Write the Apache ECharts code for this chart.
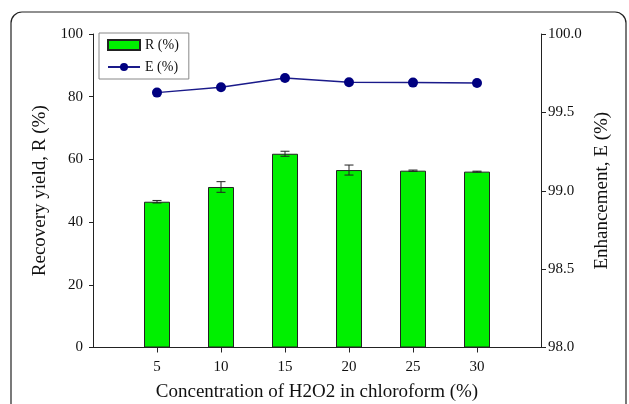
<!DOCTYPE html>
<html>
<head>
<meta charset="utf-8">
<style>
  html, body { margin: 0; padding: 0; background: #fff; }
  #chart { width: 629px; height: 404px; }
</style>
<script src="https://cdn.jsdelivr.net/npm/echarts@6/dist/echarts.min.js"></script>
</head>
<body>
<div id="chart"></div>
<script>
// H2O2 concentration in chloroform (%)
const concentration = [5, 10, 15, 20, 25, 30];
// Recovery yield R (%) and its standard deviation
const recovery = [46.5, 51.2, 61.8, 56.6, 56.4, 56.1];
const recoveryErr = [0.4, 1.7, 0.8, 1.6, 0.2, 0.15];
// Enhancement E (%)
const enhancement = [99.626, 99.660, 99.719, 99.692, 99.690, 99.687];
// Tick labels
const xTicks = [5, 10, 15, 20, 25, 30];

const serif = 'Liberation Serif';
const chart = echarts.init(document.getElementById('chart'));

const barData = concentration.map((c, i) => [c, recovery[i]]);
const errData = concentration.map((c, i) => [c, recovery[i] - recoveryErr[i], recovery[i] + recoveryErr[i]]);
const lineData = concentration.map((c, i) => [c, enhancement[i]]);

chart.setOption({
  animation: false,
  backgroundColor: '#fff',
  graphic: [{
    type: 'rect',
    shape: { x: 11, y: 12, width: 615, height: 430, r: 11 },
    style: { fill: 'none', stroke: '#222', lineWidth: 1.2 },
    silent: true
  }],
  grid: { left: 93, right: 88, top: 34, bottom: 56.5, outerBoundsMode: 'none', containLabel: false },
  legend: {
    orient: 'vertical',
    left: 99, top: 33,
    padding: [5, 10, 5, 8],
    itemGap: 8,
    itemWidth: 32, itemHeight: 10,
    borderColor: '#888', borderWidth: 1,
    textStyle: { fontFamily: serif, fontSize: 14, color: '#111' },
    data: [{ name: 'R (%)', icon: 'rect' }, { name: 'E (%)' }]
  },
  xAxis: {
    type: 'value', min: 0, max: 35, interval: 5,
    name: 'Concentration of H2O2 in chloroform (%)',
    nameLocation: 'middle', nameGap: 35,
    nameTextStyle: { fontFamily: serif, fontSize: 19, color: '#111' },
    axisLine: { lineStyle: { color: '#222', width: 1 } },
    axisTick: { show: true, length: 5, inside: false, customValues: xTicks, lineStyle: { color: '#222' } },
    axisLabel: { customValues: xTicks, fontFamily: serif, fontSize: 15, color: '#111', margin: 12 },
    splitLine: { show: false }
  },
  yAxis: [{
    type: 'value', min: 0, max: 100, interval: 20,
    name: 'Recovery yield, R (%)',
    nameLocation: 'middle', nameGap: 34,
    nameTextStyle: { fontFamily: serif, fontSize: 19, color: '#111' },
    axisLine: { show: true, lineStyle: { color: '#222', width: 1 } },
    axisTick: { show: true, length: 4, lineStyle: { color: '#222' } },
    axisLabel: { fontFamily: serif, fontSize: 15, color: '#111', margin: 10 },
    splitLine: { show: false }
  }, {
    type: 'value', min: 98, max: 100, interval: 0.5,
    position: 'right',
    name: 'Enhancement, E (%)',
    nameLocation: 'middle', nameGap: 48,
    nameRotate: 90,
    nameTextStyle: { fontFamily: serif, fontSize: 19, color: '#111' },
    axisLine: { show: true, lineStyle: { color: '#222', width: 1 } },
    axisTick: { show: true, length: 5, lineStyle: { color: '#222' } },
    axisLabel: { fontFamily: serif, fontSize: 15, color: '#111', margin: 7,
      formatter: v => v.toFixed(1) },
    splitLine: { show: false }
  }],
  series: [{
    name: 'R (%)',
    type: 'bar',
    yAxisIndex: 0,
    barWidth: 26,
    data: barData,
    itemStyle: { color: '#00f000', borderColor: '#222', borderWidth: 1 }
  }, {
    name: 'R err',
    type: 'custom',
    yAxisIndex: 0,
    z: 5,
    data: errData,
    renderItem: (params, api) => {
      const x = api.value(0);
      const lo = api.coord([x, api.value(1)]);
      const hi = api.coord([x, api.value(2)]);
      const cap = 4.5;
      const style = { stroke: '#222', lineWidth: 1 };
      return {
        type: 'group',
        children: [
          { type: 'line', shape: { x1: lo[0], y1: lo[1], x2: hi[0], y2: hi[1] }, style },
          { type: 'line', shape: { x1: hi[0] - cap, y1: hi[1], x2: hi[0] + cap, y2: hi[1] }, style },
          { type: 'line', shape: { x1: lo[0] - cap, y1: lo[1], x2: lo[0] + cap, y2: lo[1] }, style }
        ]
      };
    }
  }, {
    name: 'E (%)',
    type: 'line',
    yAxisIndex: 1,
    data: lineData,
    symbol: 'circle',
    symbolSize: 10,
    z: 6,
    lineStyle: { color: '#1a1a8a', width: 1.5 },
    itemStyle: { color: '#000080' }
  }]
});
</script>
</body>
</html>
